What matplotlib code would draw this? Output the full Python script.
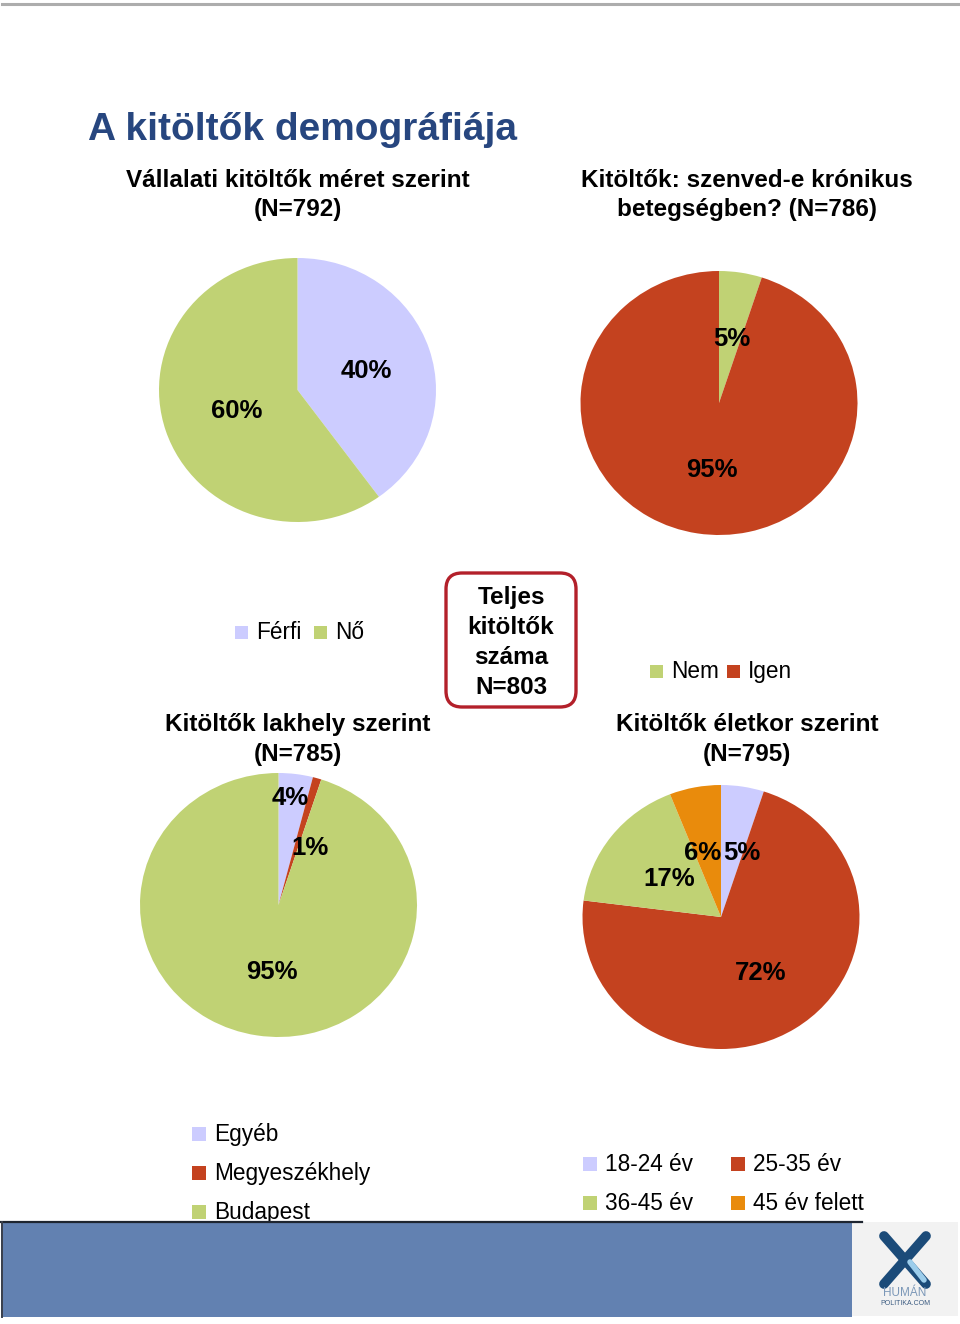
import matplotlib
matplotlib.use("Agg")
import matplotlib.pyplot as plt
from matplotlib.patches import Rectangle, FancyBboxPatch

plt.rcParams["font.family"] = ["Liberation Sans", "DejaVu Sans"]

# ── Data ──────────────────────────────────────────────────────────────────────
LAVENDER = "#CCCCFF"
GREEN = "#C0D274"
RED = "#C4421F"
ORANGE = "#E98B0C"

gender_labels = ["Férfi", "Nő"]
gender_values = [40, 60]
gender_colors = [LAVENDER, GREEN]

chronic_labels = ["Nem", "Igen"]
chronic_values = [5, 95]
chronic_colors = [GREEN, RED]

residence_labels = ["Egyéb", "Megyeszékhely", "Budapest"]
residence_values = [4, 1, 95]
residence_colors = [LAVENDER, RED, GREEN]

age_labels = ["18-24 év", "25-35 év", "36-45 év", "45 év felett"]
age_values = [5, 72, 17, 6]
age_colors = [LAVENDER, RED, GREEN, ORANGE]

# ── Layout (pixels, origin top-left) ─────────────────────────────────────────
W, H = 960, 1324
RX, RY = 138.5, 132

fig = plt.figure(figsize=(W / 100, H / 100), dpi=100)
ov = fig.add_axes([0, 0, 1, 1], zorder=3)
ov.set_xlim(0, W)
ov.set_ylim(H, 0)
ov.axis("off")


def pie_at(cx, cy, values, colors, label_pos):
    ax = fig.add_axes([(cx - RX) / W, (H - cy - RY) / H, 2 * RX / W, 2 * RY / H])
    ax.pie(values, colors=colors, startangle=90, counterclock=False,
           wedgeprops=dict(linewidth=0))
    ax.set_xlim(-1, 1)
    ax.set_ylim(-1, 1)
    ax.set_aspect("auto")
    ax.axis("off")
    for v, (x, y) in zip(values, label_pos):
        ov.text(x, y, f"{v}%", ha="center", va="baseline",
                fontsize=18.5, fontweight="bold", color="black")


pie_at(297.5, 390, gender_values, gender_colors, [(366, 378), (237, 418)])
pie_at(719, 403, chronic_values, chronic_colors, [(732, 346), (712, 477)])
pie_at(278.5, 905, residence_values, residence_colors,
       [(290, 805), (310, 855), (272, 979)])
# label order follows the slices: 18-24, 25-35, 36-45, 45+
pie_at(721, 917, age_values, age_colors,
       [(742, 860), (761, 980), (669, 886), (703, 860)])

# ── Titles ────────────────────────────────────────────────────────────────────
ov.axhline(3.5, xmin=0.002, xmax=0.998, color="#ADADAD", lw=2.2)
ov.text(88, 140, "A kitöltők demográfiája", fontsize=28, fontweight="bold",
        color="#27467F", va="baseline")

bold = dict(fontsize=17.5, fontweight="bold", ha="center", va="baseline")
ov.text(298, 187, "Vállalati kitöltők méret szerint", **bold)
ov.text(298, 216, "(N=792)", **bold)
ov.text(747, 187, "Kitöltők: szenved-e krónikus", **bold)
ov.text(747, 216, "betegségben? (N=786)", **bold)
ov.text(298, 731, "Kitöltők lakhely szerint", **bold)
ov.text(298, 761, "(N=785)", **bold)
ov.text(747, 731, "Kitöltők életkor szerint", **bold)
ov.text(747, 761, "(N=795)", **bold)

# total respondents box
ov.add_patch(FancyBboxPatch((446, 573), 130, 134,
                            boxstyle="round,pad=0,rounding_size=16",
                            fc="white", ec="#B3202A", lw=2.4))
for i, line in enumerate(["Teljes", "kitöltők", "száma", "N=803"]):
    ov.text(511, 604 + 30 * i, line, **bold)


# ── Legends ───────────────────────────────────────────────────────────────────
def legend_item(x, y, label, color, size=14, gap=8):
    ov.add_patch(Rectangle((x, y - size / 2), size, size, fc=color, ec="none"))
    ov.text(x + size + gap, y + 7, label, fontsize=16.3, va="baseline")


legend_item(235, 632, gender_labels[0], gender_colors[0], size=13)
legend_item(314, 632, gender_labels[1], gender_colors[1], size=13)
legend_item(650, 671, chronic_labels[0], chronic_colors[0], size=13)
legend_item(727, 671, chronic_labels[1], chronic_colors[1], size=13)

for i, (lbl, col) in enumerate(zip(residence_labels, residence_colors)):
    legend_item(192, 1134 + 39 * i, lbl, col)

age_slots = [(583, 1164), (731, 1164), (583, 1203), (731, 1203)]
for (x, y), lbl, col in zip(age_slots, age_labels, age_colors):
    legend_item(x, y, lbl, col)

# ── Footer bar and logo ───────────────────────────────────────────────────────
ov.add_patch(Rectangle((1, 1222), 851, 95, fc="#6281B1", ec="none", zorder=5))
ov.plot([1, 862], [1222, 1222], color="#1E2530", lw=1.6, zorder=6)
ov.plot([1.5, 1.5], [1222, 1317], color="#3A404C", lw=1.4, zorder=6)
ov.add_patch(Rectangle((852, 1222), 106, 94, fc="#F2F2F2", ec="none", zorder=5))
ov.plot([884, 926], [1236, 1284], color="#1B4B79", lw=7, solid_capstyle="round", zorder=6)
ov.plot([926, 884], [1236, 1284], color="#1B4B79", lw=7, solid_capstyle="round", zorder=6)
ov.plot([910, 924], [1262, 1280], color="#9CCDEB", lw=4, solid_capstyle="round", zorder=7)
ov.text(905, 1296, "HUMÁN", fontsize=8.5, color="#7C98B8", ha="center", va="baseline", zorder=7)
ov.text(905, 1305, "POLITIKA.COM", fontsize=5, color="#3C5C82", ha="center", va="baseline", zorder=7)

fig.savefig("out.png", dpi=100)
